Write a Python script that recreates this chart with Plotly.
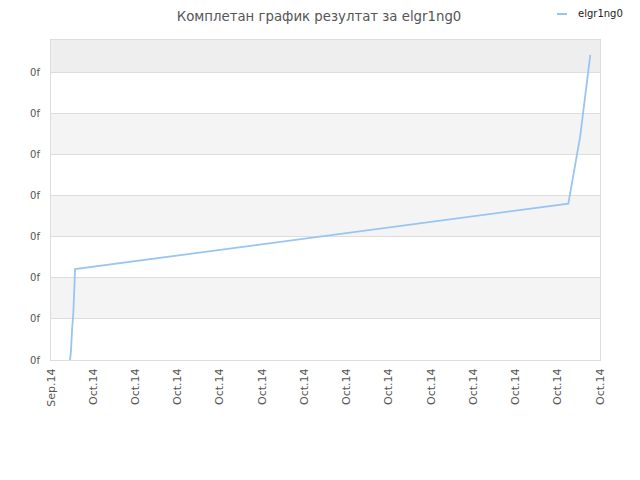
import plotly.graph_objects as go

# data (x in tick-interval units, y in gridline units)
x_vals = [0.45, 0.47, 0.50, 0.53, 0.57, 12.25, 12.53, 12.77]
y_vals = [0.0, 0.18, 0.75, 1.17, 2.21, 3.80, 5.43, 7.42]
x_tick_labels = ["Sep.14"] + ["Oct.14"] * 13
y_tick_labels = ["0f"] * 8
series_name = "elgr1ng0"
title = "Комплетан график резултат за elgr1ng0"

font_family = "DejaVu Sans"
# page has 8px body margin; figure coords = page coords - 8
L, R, T, B = 43, 48, 32, 128
PW, PH = 640 - L - R, 480 - T - B

fig = go.Figure()
fig.add_trace(go.Scatter(x=x_vals, y=y_vals, mode="lines",
                         line=dict(color="#99c5f4", width=1.8),
                         name=series_name, showlegend=False))

ymax = 7.78
shapes = []
for k in range(8):
    if k % 2 == 1:
        top = min(k + 1, ymax)
        shapes.append(dict(type="rect", xref="paper", yref="y", x0=0, x1=1,
                           y0=k, y1=top, fillcolor="#eeeeee" if k == 7 else "#f4f4f4",
                           line=dict(width=0), layer="below"))
# legend sample
ly = (PH + T - 6) / PH
shapes.append(dict(type="line", xref="paper", yref="paper",
                   x0=(549 - L) / PW, x1=(559 - L) / PW, y0=ly, y1=ly,
                   line=dict(color="#99c5f4", width=2)))

fig.update_layout(
    width=640, height=480,
    margin=dict(l=L, r=R, t=T, b=B, autoexpand=False),
    paper_bgcolor="white", plot_bgcolor="white",
    title=dict(text=title, x=(167 + 288 / 2) / 640, xanchor="center", y=1 - 4 / 480, yanchor="top",
               font=dict(family=font_family, size=13.3, color="#555555")),
    shapes=shapes,
    annotations=[dict(text=series_name, xref="paper", yref="paper",
                      x=(568 - L) / PW, y=ly, xanchor="left", yanchor="middle",
                      showarrow=False, font=dict(family=font_family, size=10, color="#222222"))],
    xaxis=dict(range=[0, 13], tickmode="array", tickvals=list(range(14)),
               ticktext=x_tick_labels, tickangle=-90, showgrid=False, zeroline=False,
               showline=True, linecolor="#dddddd", mirror=True, ticks="",
               ticklabelstandoff=3,
               tickfont=dict(family=font_family, size=11, color="#555555")),
    yaxis=dict(range=[0, ymax], tickmode="array", tickvals=list(range(8)),
               ticktext=y_tick_labels, showgrid=True, gridcolor="#dddddd", zeroline=False,
               showline=True, linecolor="#dddddd", mirror=True, ticks="",
               ticklabelstandoff=8,
               tickfont=dict(family=font_family, size=10, color="#555555")),
)
fig.write_html("out.html")
